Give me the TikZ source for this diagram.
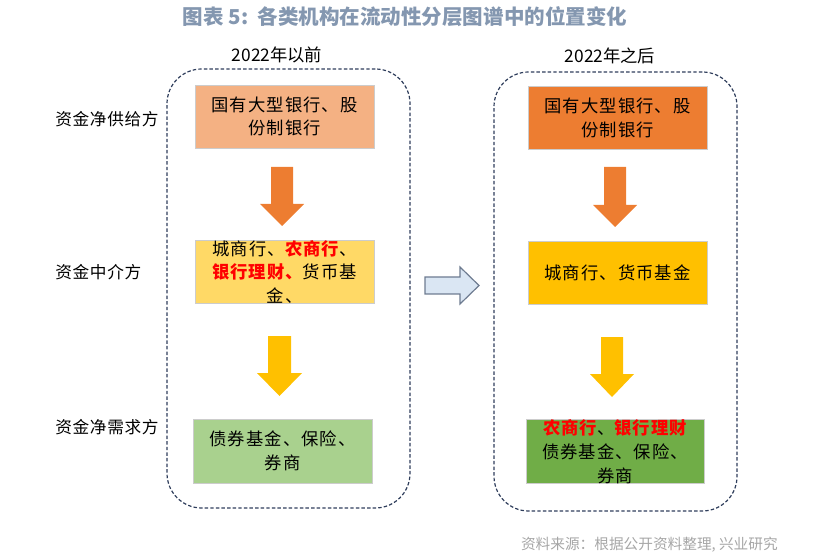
\documentclass[tikz,border=0pt]{standalone}
\usepackage{fontspec}
\setmainfont{Noto Sans CJK SC}
\definecolor{titlec}{HTML}{8497B0}
\definecolor{srcc}{HTML}{A6A6A6}
\definecolor{framec}{HTML}{2F3E5C}
\definecolor{lorange}{HTML}{F4B183}
\definecolor{lgold}{HTML}{FFD966}
\definecolor{lgreen}{HTML}{A9D18E}
\definecolor{dorange}{HTML}{ED7D31}
\definecolor{dgold}{HTML}{FFC000}
\definecolor{dgreen}{HTML}{70AD47}
\definecolor{arrfill}{HTML}{DAE6F3}
\definecolor{arrline}{HTML}{6E7C91}
\definecolor{redtxt}{HTML}{FF0000}
\begin{document}
\begin{tikzpicture}[x=0.75pt,y=-0.75pt,
  box/.style={draw=white!80!black, line width=0.6pt, minimum width=134.25pt, minimum height=47.25pt,
    align=center, inner sep=0pt, font=\fontsize{13}{17.8}\selectfont\addfontfeatures{LetterSpace=6}},
  frame/.style={draw=framec, dash pattern=on 2.6pt off 1.6pt, line width=0.9pt, rounded corners=26pt,
    minimum width=182.25pt, minimum height=329.25pt, inner sep=0pt},
  lab/.style={anchor=west, inner sep=0pt, font=\fontsize{12.5}{15}\selectfont\addfontfeatures{LetterSpace=4}},
  yr/.style={inner sep=0pt, font=\fontsize{13}{15}\selectfont}]
\useasboundingbox (0,0) rectangle (813,559);
\newcommand{\rb}[1]{\textcolor{redtxt}{\bfseries #1}}

% title
\node[inner sep=0pt, text=titlec, font=\fontsize{15.4}{18}\selectfont\bfseries] (title) at (405,17)
  {图表 5:\ \ 各类机构在流动性分层图谱中的位置变化};
% source
\node[inner sep=0pt, text=srcc, font=\fontsize{11}{13}\selectfont, anchor=east] (src) at (778,545)
  {资料来源：根据公开资料整理, 兴业研究};

% frames
\node[frame] (fl) at (288.5,288.5) {};
\node[frame] (fr) at (615.5,291.5) {};
\node[yr] (yl) at (277,55) {2022年以前};
\node[yr] (yrr) at (610,56) {2022年之后};

% left labels
\node[lab] (l1) at (55,119) {资金净供给方};
\node[lab] (l2) at (55,272) {资金中介方};
\node[lab] (l3) at (55,427) {资金净需求方};

% left boxes
\node[box, fill=lorange] (a1) at (284.5,116.5) {国有大型银行、股\\份制银行};
\node[box, fill=lgold] (a2) at (284.5,272) {城商行、\rb{农商行}、\\\rb{银行理财、}货币基\\金、};
\node[box, fill=lgreen, minimum height=48pt] (a3) at (282.5,451) {债券基金、保险、\\券商};

% right boxes
\node[box, fill=dorange] (b1) at (617.5,118) {国有大型银行、股\\份制银行};
\node[box, fill=dgold] (b2) at (617.5,273) {城商行、货币基金};
\node[box, fill=dgreen, minimum width=133.5pt] (b3) at (615,451.5) {\rb{农商行}、\rb{银行理财}\\债券基金、保险、\\券商};

% down arrows (left)
\fill[dorange] (271,167) -- (293,167) -- (293,204) -- (304,204) -- (282,226) -- (260,204) -- (271,204) -- cycle;
\fill[dgold] (268,336) -- (291,336) -- (291,373) -- (302,373) -- (279.5,396) -- (257,373) -- (268,373) -- cycle;
% down arrows (right)
\fill[dorange] (604,167) -- (626,167) -- (626,205) -- (637,205) -- (615,227) -- (593,205) -- (604,205) -- cycle;
\fill[dgold] (601,337) -- (623,337) -- (623,374) -- (634,374) -- (612,397) -- (590,374) -- (601,374) -- cycle;

% middle arrow
\filldraw[fill=arrfill, draw=arrline, line width=0.9pt]
  (425,277) -- (460,277) -- (460,267) -- (479,285.5) -- (460,304) -- (460,294) -- (425,294) -- cycle;
\end{tikzpicture}
\end{document}
